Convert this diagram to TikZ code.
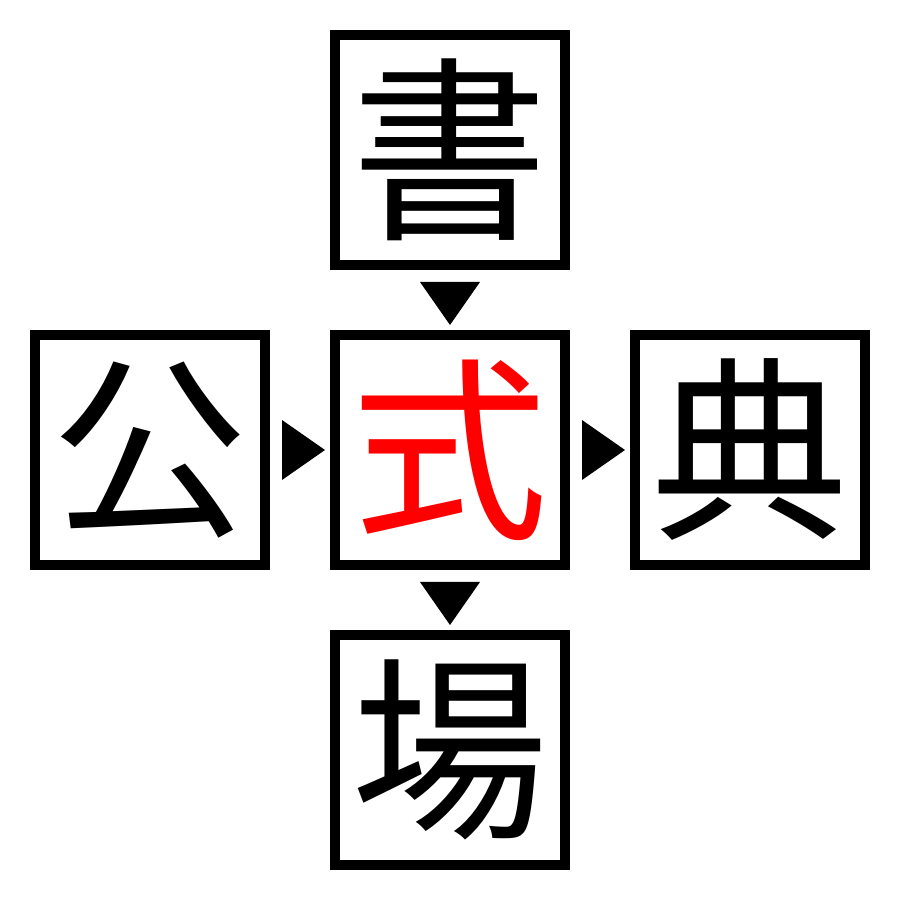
\documentclass[tikz,border=0pt]{standalone}
\usepackage{fontspec}
\newfontfamily\jpfont{Noto Sans CJK JP}
\usetikzlibrary{calc}

\tikzset{
	kanji/.style={rectangle, draw, line width=0.1cm, minimum size=2.3cm, inner sep=0pt, font=\jpfont\fontsize{56}{56}\selectfont},
}

\begin{document}
\begin{tikzpicture}
			\useasboundingbox (0, 0) rectangle (9, 9);
			\node[kanji, text=red] (shiki) at (4.5, 4.5) {式};
			\node[kanji] (kou) at (1.5, 4.5) {公};
			\node[kanji] (ten) at (7.5, 4.5) {典};
			\node[kanji] (sho) at (4.5, 7.5) {書};
			\node[kanji] (jou) at (4.5, 1.5) {場};
			
			\coordinate (A1) at ($(kou.east)!0.5!(shiki.west)$);
			\coordinate (A2) at ($(shiki.east)!0.5!(ten.west)$);
			\coordinate (A3) at ($(sho.south)!0.5!(shiki.north)$);
			\coordinate (A4) at ($(shiki.south)!0.5!(jou.north)$);
			
			\fill (A1) ++(-0.18, 0.3) -- ++(0.43, -0.3) -- ++(-0.43, -0.3) -- cycle;
			\fill (A2) ++(-0.18, 0.3) -- ++(0.43, -0.3) -- ++(-0.43, -0.3) -- cycle;
			\fill (A3) ++(-0.3, 0.18) -- ++(0.6, 0) -- ++(-0.3, -0.43) -- cycle;
			\fill (A4) ++(-0.3, 0.18) -- ++(0.6, 0) -- ++(-0.3, -0.43) -- cycle;
\end{tikzpicture}
\end{document}
